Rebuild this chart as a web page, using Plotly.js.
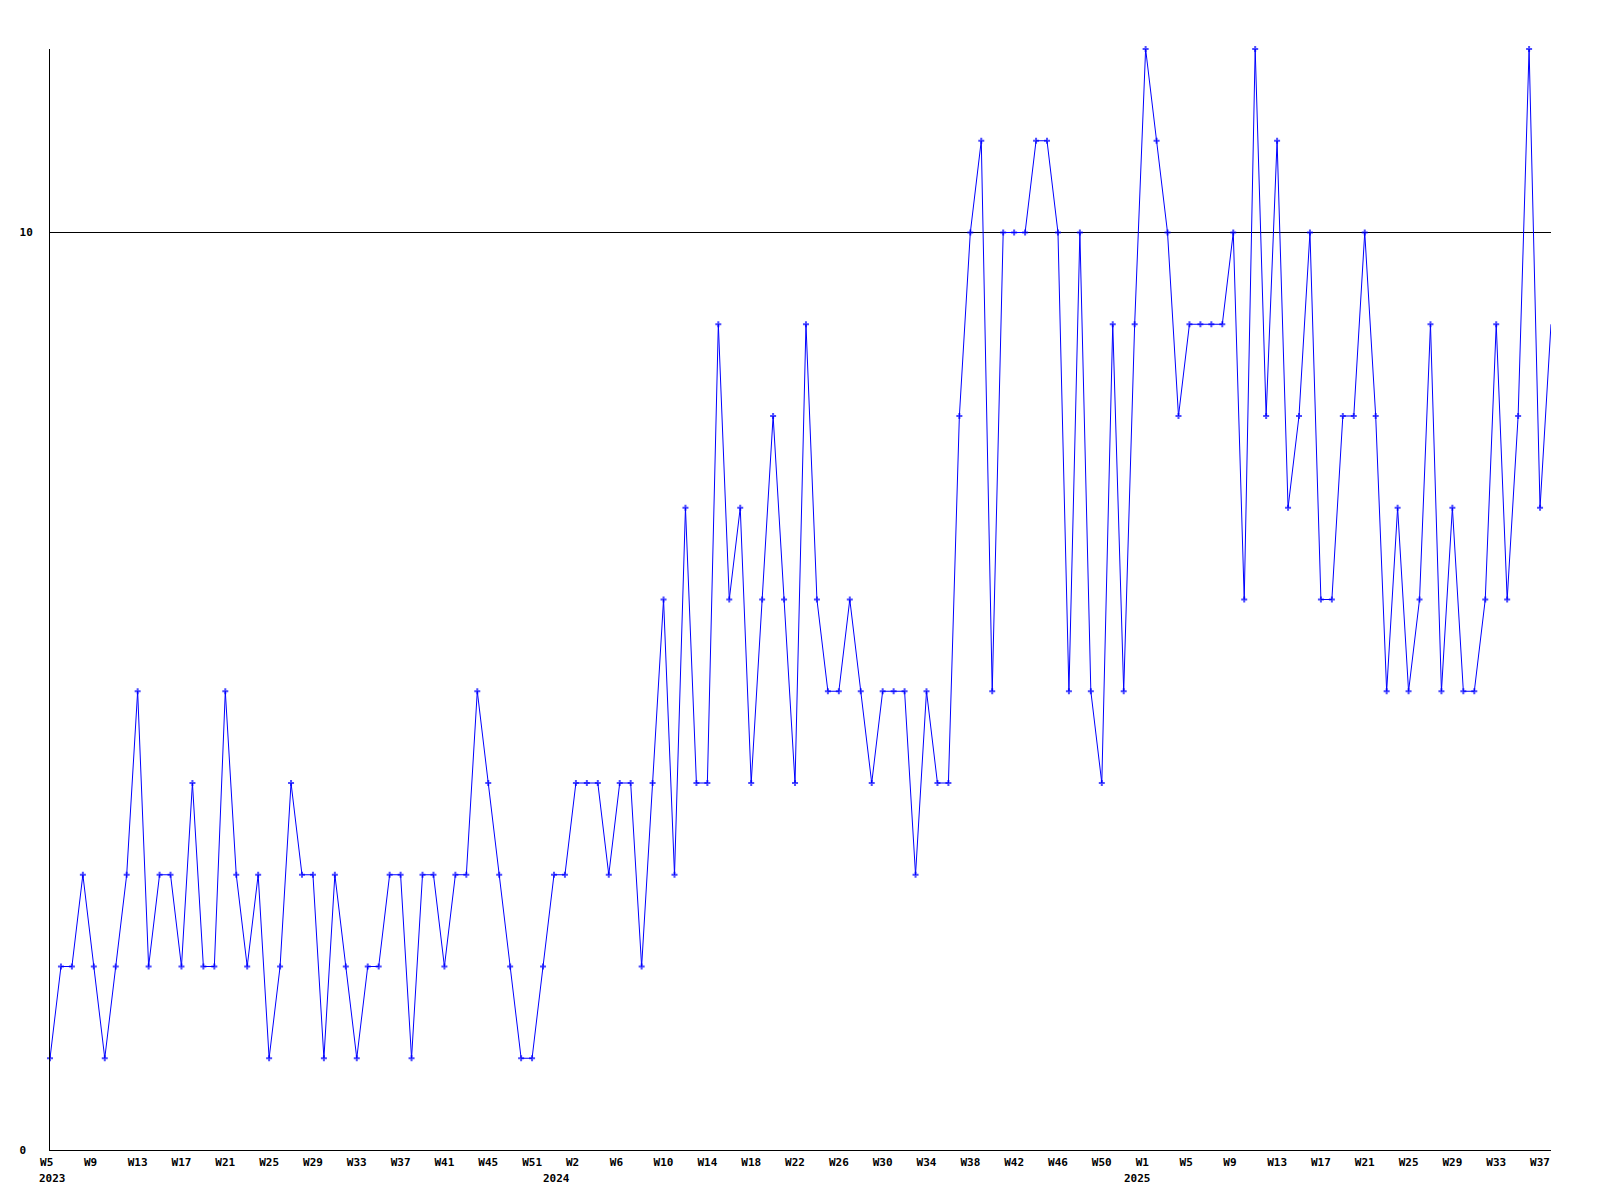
<!DOCTYPE html>
<html>
<head>
<meta charset="utf-8">
<script src="https://cdn.plot.ly/plotly-3.0.1.min.js"></script>
<style>html,body{margin:0;padding:0;background:#fff;}</style>
</head>
<body>
<div id="chart" style="width:1600px;height:1200px;"></div>
<script>
// Week numbers per year (as printed on the axis)
var weeks2023 = [5,6,7,8,9,10,11,12,13,14,15,16,17,18,19,20,21,22,23,24,25,26,27,28,29,30,31,32,33,34,35,36,37,38,39,40,41,42,43,44,45,46,48,50,51,52];
var weeks2024 = [0,1,2,3,4,5,6,7,8,9,10,11,12,13,14,15,16,17,18,19,20,21,22,23,24,25,26,27,28,29,30,31,32,33,34,35,36,37,38,39,40,41,42,43,44,45,46,47,48,49,50,51,52];
var weeks2025 = [0,1,2,3,4,5,6,7,8,9,10,11,12,13,14,15,16,17,18,19,20,21,22,23,24,25,26,27,28,29,30,31,32,33,34,35,36,37,38];

// Weekly values
var values2023 = [1,2,2,3,2,1,2,3,5,2, 3,3,2,4,2,2,5,3,2,3, 1,2,4,3,3,1,3,2,1,2, 2,3,3,1,3,3,2,3,3,5, 4,3,2,1,1,2];
var values2024 = [3,3,4,4,4,3,4,4,2,4, 6,3,7,4,4,9,6,7,4,6, 8,6,4,9,6,5,5,6,5,4, 5,5,5,3,5,4,4,8,10,11, 5,10,10,10,11,11,10,5,10,5, 4,9,5];
var values2025 = [9,12,11,10,8,9,9,9,9,10, 6,12,8,11,7,8,10,6,6,8, 8,10,8,5,7,5,6,9,5,7, 5,5,6,9,6,8,12,7,9];

var years = ["2023","2024","2025"];
var yTickVals = [0,10];
var yTickText = ["0\u00a0","10"];

var weekSets = [weeks2023, weeks2024, weeks2025];
var valueSets = [values2023, values2024, values2025];

var cats = [], weekNums = [], vals = [], yearStarts = [];
for (var k = 0; k < years.length; k++) {
  yearStarts.push(years[k] + "-W" + weekSets[k][0]);
  for (var j = 0; j < weekSets[k].length; j++) {
    cats.push(years[k] + "-W" + weekSets[k][j]);
    weekNums.push(weekSets[k][j]);
    vals.push(valueSets[k][j]);
  }
}

var tickvals = [], ticktext = [];
for (var i = 0; i < cats.length; i += 4) {
  tickvals.push(cats[i]);
  var t = "W" + weekNums[i];
  while (t.length < 3) t += "\u00a0";
  ticktext.push(t);
}

// the right-edge point carries no marker in the original
var markerSizes = cats.map(function (c, idx) { return idx === cats.length - 1 ? 0 : 5; });

var labelFont = {family: "DejaVu Sans Mono", size: 11, color: "#000", weight: "bold"};

var annotations = years.map(function (y, k) {
  return {
    x: yearStarts[k], xref: "x", y: 0, yref: "paper",
    text: y, showarrow: false, xanchor: "left", yanchor: "top",
    xshift: -12, yshift: -21, font: labelFont, borderpad: 0
  };
});

var trace = {
  type: "scatter", mode: "lines+markers",
  x: cats, y: vals,
  cliponaxis: false,
  line: {color: "#0000ff", width: 1},
  marker: {symbol: "cross", size: markerSizes, color: "#0000ff", line: {width: 0}},
  hoverinfo: "x+y"
};

var layout = {
  width: 1600, height: 1200,
  margin: {l: 50, r: 49, t: 49, b: 50},
  paper_bgcolor: "#fff", plot_bgcolor: "#fff",
  showlegend: false,
  xaxis: {
    type: "category", categoryorder: "array", categoryarray: cats,
    range: [0, cats.length - 1], autorange: false,
    tickmode: "array", tickvals: tickvals, ticktext: ticktext,
    tickangle: 0, ticks: "", showgrid: false, zeroline: false,
    showline: true, linecolor: "#000", linewidth: 1,
    tickfont: labelFont, ticklabelstandoff: 2
  },
  yaxis: {
    range: [0, 12], autorange: false,
    tickmode: "array", tickvals: yTickVals, ticktext: yTickText,
    ticks: "", showgrid: true, gridcolor: "#000", gridwidth: 1,
    zeroline: false, showline: true, linecolor: "#000", linewidth: 1,
    tickfont: labelFont, ticklabelstandoff: 14
  },
  annotations: annotations
};

Plotly.newPlot("chart", [trace], layout, {staticPlot: true});
</script>
</body>
</html>
